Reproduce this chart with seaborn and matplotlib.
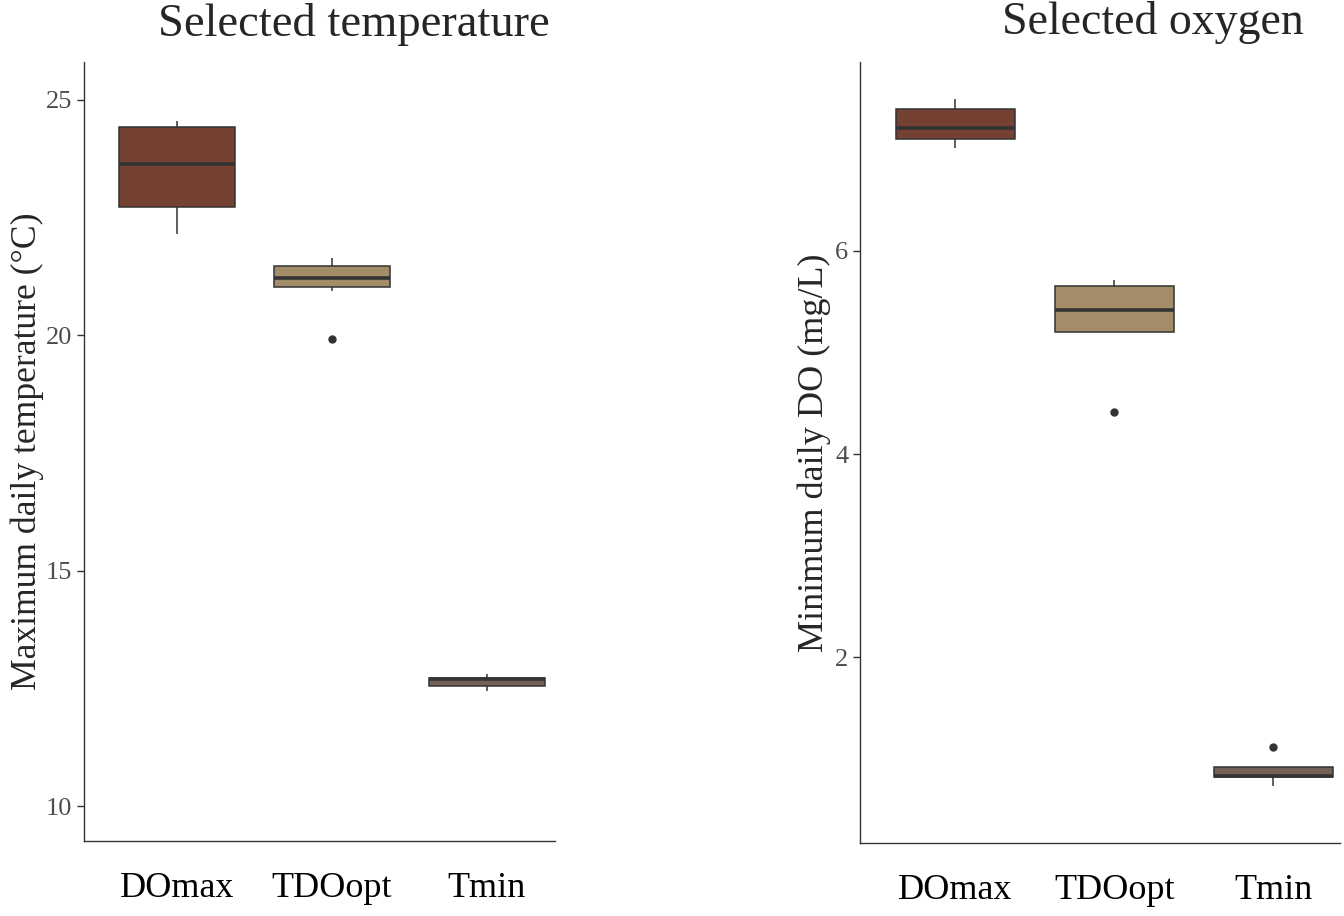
import numpy as np
import pandas as pd
import matplotlib
matplotlib.use('Agg')
import matplotlib.pyplot as plt
import seaborn as sns

GROUPS = ['DOmax', 'TDOopt', 'Tmin']

temp_domax = [22.15, 22.73, 23.63, 24.42, 24.54]
temp_tdoopt = [19.91, 20.93, 21.11, 21.22, 21.35, 21.57, 21.63]
temp_tmin = [12.44, 12.56, 12.69, 12.72, 12.81]

do_domax = [7.01, 7.10, 7.21, 7.40, 7.50]
do_tdoopt = [4.41, 5.20, 5.42, 5.65, 5.71]
do_tmin = [0.73, 0.82, 0.83, 0.92, 1.12]

temp_ticks = [10, 15, 20, 25]
do_ticks = [2, 4, 6]

PALETTE = {'DOmax': '#7f3b28', 'TDOopt': '#ac8f5e', 'Tmin': '#77604f'}


def long_df(values):
    rows = []
    for g, vals in zip(GROUPS, values):
        rows += [(g, v) for v in vals]
    return pd.DataFrame(rows, columns=['group', 'value'])


temp_df = long_df([temp_domax, temp_tdoopt, temp_tmin])
do_df = long_df([do_domax, do_tdoopt, do_tmin])

sns.set_theme(style='ticks')
plt.rcParams['font.family'] = ['Liberation Serif', 'DejaVu Serif']

W, H = 1344, 916
fig = plt.figure(figsize=(W / 100, H / 100), dpi=100)


def px_axes(x0, y0, x1, y1):
    return fig.add_axes([x0 / W, 1 - y1 / H, (x1 - x0) / W, (y1 - y0) / H])


ax1 = px_axes(84, 62, 555, 841)
ax2 = px_axes(860, 62, 1340, 843)

EDGE = '#333333'
box_kw = dict(x='group', y='value', hue='group', order=GROUPS, palette=PALETTE,
              legend=False, width=0.75, linecolor=EDGE, linewidth=1.1,
              whis=1.5, fliersize=5,
              flierprops=dict(marker='o', markerfacecolor=EDGE, markeredgecolor=EDGE),
              medianprops=dict(linewidth=2.6, color=EDGE),
              capprops=dict(linewidth=0))

sns.boxplot(data=temp_df, ax=ax1, **box_kw)
sns.boxplot(data=do_df, ax=ax2, **box_kw)

ax1.set_ylim(9.26, 25.8)
ax1.set_xlim(-0.6, 2.44)
ax1.set_yticks(temp_ticks)
ax2.set_ylim(0.17, 7.86)
ax2.set_xlim(-0.6, 2.42)
ax2.set_yticks(do_ticks)

for ax in (ax1, ax2):
    sns.despine(ax=ax)
    ax.spines['left'].set_color(EDGE)
    ax.spines['bottom'].set_color(EDGE)
    ax.spines['left'].set_linewidth(1.0)
    ax.spines['bottom'].set_linewidth(1.0)
    ax.tick_params(axis='y', labelsize=19, labelcolor='#4d4d4d', color=EDGE,
                   length=5, width=1)
    ax.tick_params(axis='x', labelsize=26, labelcolor='black',
                   length=0, pad=22)
    ax.set_xlabel('')
    ax.set_facecolor('white')

ax1.set_ylabel('Maximum daily temperature (°C)', fontsize=25.7, labelpad=1)
ax2.set_ylabel('Minimum daily DO (mg/L)', fontsize=26, labelpad=3)

fig.text(354 / W, 1 - 24 / H, 'Selected temperature', fontsize=33.5,
         ha='center', va='center')
fig.text(1153 / W, 1 - 22 / H, 'Selected oxygen', fontsize=33,
         ha='center', va='center')

fig.savefig('out.png', dpi=100, facecolor='white')
